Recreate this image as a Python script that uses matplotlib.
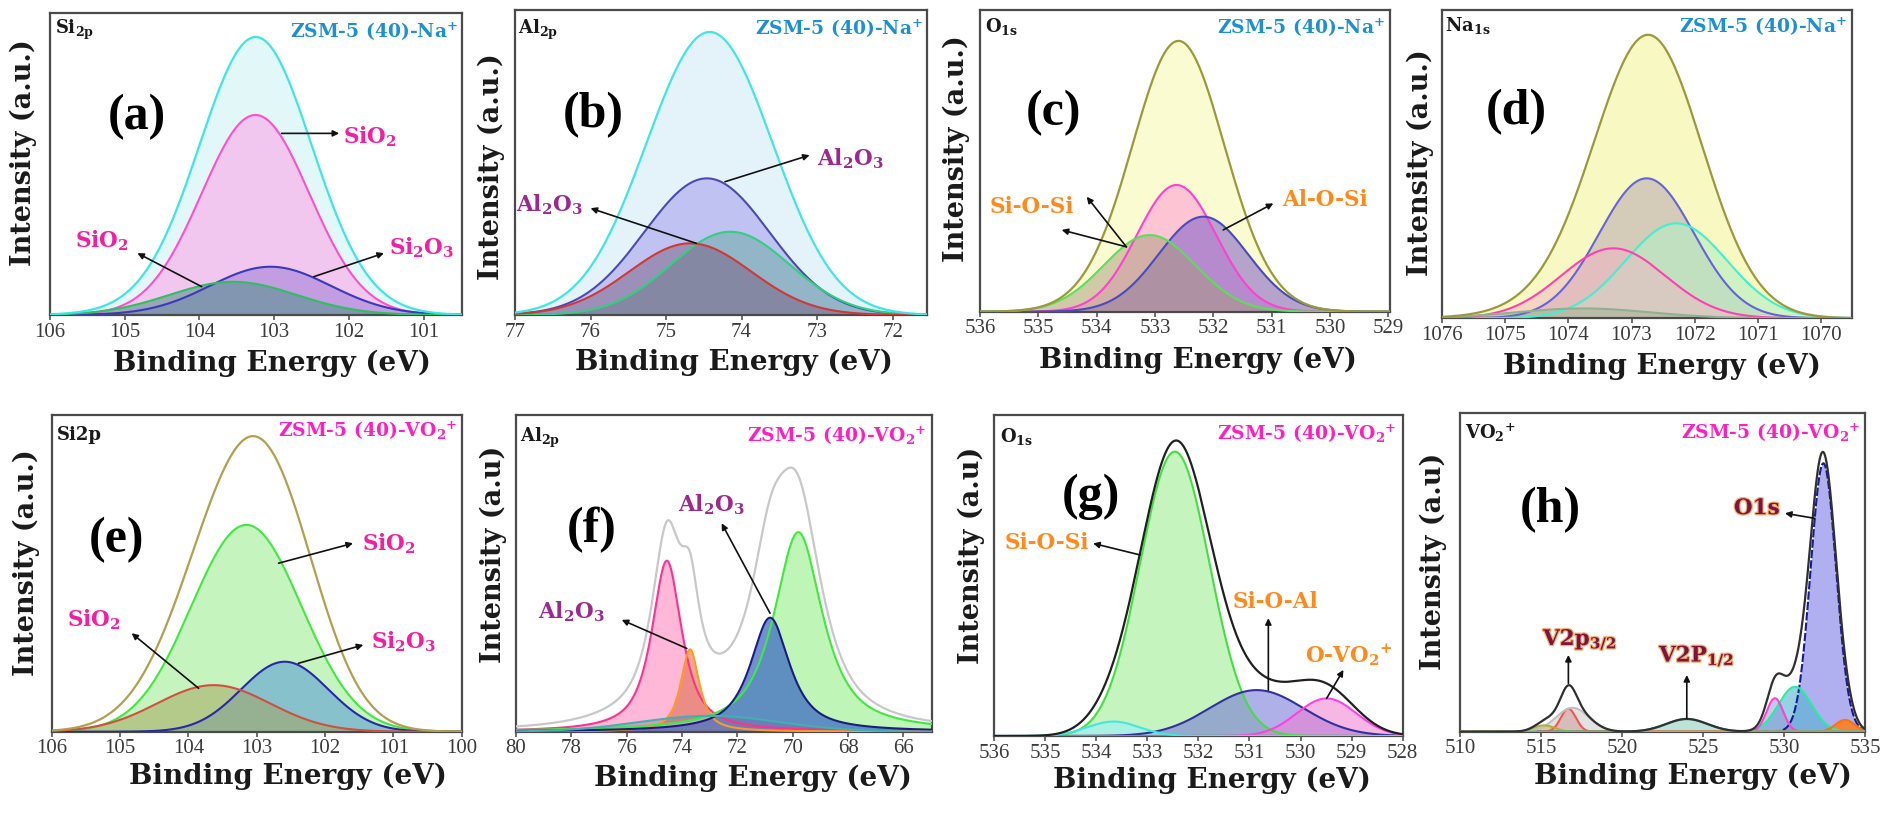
import numpy as np
import matplotlib
matplotlib.use("Agg")
import matplotlib.pyplot as plt
import matplotlib.patheffects as pe

plt.rcParams['mathtext.default'] = 'regular'

# ------------------------------------------------------------------
# DATA : fitted XPS peak components
# centre (eV), height (relative), FWHM (eV), Lorentzian fraction
# ------------------------------------------------------------------
# (a) Si 2p  ZSM-5(40)-Na+   : SiO2, Si2O3, SiO2(minor)
a_center = [103.25, 103.05, 103.55]
a_height = [0.663, 0.160, 0.110]
a_fwhm = [1.70, 1.90, 2.00]
a_ticks = [106, 105, 104, 103, 102, 101]

# (b) Al 2p  ZSM-5(40)-Na+   : Al2O3, Al2O3, Al2O3
b_center = [74.46, 74.15, 74.68]
b_height = [0.448, 0.273, 0.235]
b_fwhm = [1.95, 1.85, 1.90]
b_ticks = [77, 76, 75, 74, 73, 72]

# (c) O 1s  ZSM-5(40)-Na+    : Si-O-Si, Al-O-Si, Si-O-Si
c_center = [532.63, 532.17, 533.09]
c_height = [0.420, 0.315, 0.254]
c_fwhm = [1.60, 1.80, 1.85]
c_ticks = [536, 535, 534, 533, 532, 531, 530, 529]

# (d) Na 1s  ZSM-5(40)-Na+
d_center = [1072.76, 1072.29, 1073.29, 1073.77]
d_height = [0.454, 0.308, 0.227, 0.032]
d_fwhm = [1.77, 1.90, 1.95, 2.50]
d_ticks = [1076, 1075, 1074, 1073, 1072, 1071, 1070]

# (e) Si 2p  ZSM-5(40)-VO2+  : SiO2, Si2O3, SiO2(minor)
e_center = [103.15, 102.59, 103.63]
e_height = [0.653, 0.221, 0.147]
e_fwhm = [1.90, 1.50, 1.95]
e_ticks = [106, 105, 104, 103, 102, 101, 100]

# (f) Al 2p  ZSM-5(40)-VO2+
f_center = [74.55, 73.71, 69.80, 70.82, 73.00]
f_height = [0.540, 0.260, 0.630, 0.360, 0.050]
f_fwhm = [1.30, 0.80, 2.10, 1.70, 6.00]
f_eta = [0.85, 0.85, 0.85, 0.85, 0.0]
f_ticks = [80, 78, 76, 74, 72, 70, 68, 66]

# (g) O 1s  ZSM-5(40)-VO2+   : Si-O-Si, Si-O-Al, O-VO2+, minor
g_center = [532.46, 530.86, 529.49, 533.66]
g_height = [0.886, 0.143, 0.117, 0.045]
g_fwhm = [1.60, 2.16, 1.37, 1.20]
g_ticks = [536, 535, 534, 533, 532, 531, 530, 529, 528]

# (h) VO2+ region           : O1s, O1s, O1s, O1s, V2p3/2 (x3), V2p1/2
h_center = [532.43, 530.68, 529.44, 533.77, 516.69, 516.95, 515.20, 524.00]
h_height = [0.843, 0.141, 0.105, 0.037, 0.072, 0.075, 0.020, 0.040]
h_fwhm = [1.85, 2.40, 1.20, 1.40, 1.10, 2.40, 1.50, 3.00]
h_ticks = [510, 515, 520, 525, 530, 535]

# ------------------------------------------------------------------
# STYLE / LAYOUT
# ------------------------------------------------------------------
W, H = 1885, 814
SERIF_B = 'DejaVu Serif'
TIMES = 'Liberation Serif'
BLUE_T = '#1e8fd0'
MAG_T = '#ff1fbf'
PINK_T = '#f41ea0'
PURP_T = '#9c2a8e'
ORNG_T = '#ff8a1c'
CRIM_T = '#7e1440'


def pv(x, c, h, w, eta=0.0):
    g = np.exp(-4 * np.log(2) * ((x - c) / w) ** 2)
    l = 1.0 / (1.0 + ((x - c) / (w / 2)) ** 2)
    return h * ((1 - eta) * g + eta * l)


panels = [
    dict(box=(50, 461.7, 13.3, 315), xlim=(106, 100.49), ticks=a_ticks,
         c=a_center, h=a_height, w=a_fwhm, eta=None,
         env=('#3ee6e0', '#e2f8f8'),
         comp=[('#ff50c8', '#f4bfee', 0.85), ('#3a3ab8', '#8a6ad0', 0.45),
               ('#2ec060', '#4f8f8a', 0.55)],
         head=r'Si$_{2p}$', head_xy=(0.012, 0.985), zsm=r'ZSM-5 (40)-Na$^{+}$',
         zsm_c=BLUE_T, zsm_xy=(0.99, 0.975), letter='(a)', let_xy=(0.211, 0.657),
         ylab='Intensity (a.u.)', ylab_xy=(-0.065, 0.537), xlab_xy=(0.538, -0.16),
         texts=[('SiO$_2$', 101.72, 0.59, PINK_T), ('SiO$_2$', 105.31, 0.245, PINK_T),
                ('Si$_2$O$_3$', 101.02, 0.222, PINK_T)],
         arrows=[((102.9, 0.602), (102.13, 0.602)), ((103.97, 0.094), (104.83, 0.205)),
                 ((102.47, 0.127), (101.53, 0.205))]),
    dict(box=(515, 926.7, 10, 315), xlim=(77, 71.55), ticks=b_ticks,
         c=b_center, h=b_height, w=b_fwhm, eta=None,
         env=('#40e6e0', '#e4f3fa'),
         comp=[('#4a4ab0', '#b4b4ee', 0.75), ('#30d080', '#5aa898', 0.45),
               ('#d03838', '#7a5c80', 0.5)],
         head=r'Al$_{2p}$', head_xy=(0.008, 0.975), zsm=r'ZSM-5 (40)-Na$^{+}$',
         zsm_c=BLUE_T, zsm_xy=(0.992, 0.975), letter='(b)', let_xy=(0.19, 0.656),
         ylab='Intensity (a.u.)', ylab_xy=(-0.057, 0.486), xlab_xy=(0.532, -0.155),
         texts=[('Al$_2$O$_3$', 72.56, 0.514, PURP_T), ('Al$_2$O$_3$', 76.54, 0.361, PURP_T)],
         arrows=[((74.22, 0.437), (73.1, 0.524)), ((74.6, 0.235), (76.0, 0.35))]),
    dict(box=(980, 1390, 10, 311.7), xlim=(536, 528.97), ticks=c_ticks,
         c=c_center, h=c_height, w=c_fwhm, eta=None,
         env=('#9a9a3c', '#fbfbd2'),
         comp=[('#ff40d0', '#ffb4d6', 0.75), ('#4a4ac0', '#7c5cc8', 0.55),
               ('#58e058', '#a89a7c', 0.5)],
         head=r'O$_{1s}$', head_xy=(0.012, 0.98), zsm=r'ZSM-5 (40)-Na$^{+}$',
         zsm_c=BLUE_T, zsm_xy=(0.987, 0.978), letter='(c)', let_xy=(0.179, 0.657),
         ylab='Intensity (a.u.)', ylab_xy=(-0.057, 0.542), xlab_xy=(0.532, -0.16),
         texts=[('Si-O-Si', 535.11, 0.348, ORNG_T), ('Al-O-Si', 530.09, 0.37, ORNG_T)],
         arrows=[((533.49, 0.215), (534.17, 0.381)), ((533.49, 0.215), (534.6, 0.271)),
                 ((531.83, 0.271), (530.97, 0.359))]),
    dict(box=(1442.3, 1851.7, 10, 318.3), xlim=(1076, 1069.51), ticks=d_ticks,
         c=d_center, h=d_height, w=d_fwhm, eta=None,
         env=('#9a9a3c', '#f8f8c2'),
         comp=[('#6464d8', '#b8a8b0', 0.55), ('#40f0d0', '#b4eec4', 0.6),
               ('#ff40b0', '#f0b4c4', 0.5), ('#90b090', '#a0b090', 0.5)],
         head=r'Na$_{1s}$', head_xy=(0.007, 0.985), zsm=r'ZSM-5 (40)-Na$^{+}$',
         zsm_c=BLUE_T, zsm_xy=(0.988, 0.982), letter='(d)', let_xy=(0.182, 0.67),
         ylab='Intensity (a.u.)', ylab_xy=(-0.054, 0.504), xlab_xy=(0.537, -0.157),
         texts=[], arrows=[]),
    dict(box=(51.7, 461.7, 415, 731.7), xlim=(106, 100), ticks=e_ticks,
         c=e_center, h=e_height, w=e_fwhm, eta=None,
         env=('#b0a050', None),
         comp=[('#40e840', '#c6f4be', 1.0), ('#2828a8', '#5e9fd4', 0.6),
               ('#d05040', '#a4a25a', 0.5)],
         head='Si2p', head_xy=(0.012, 0.965), zsm=r'ZSM-5 (40)-VO$_2$$^{+}$',
         zsm_c=MAG_T, zsm_xy=(0.99, 0.985), letter='(e)', let_xy=(0.157, 0.605),
         ylab='Intensity (a.u.)', ylab_xy=(-0.061, 0.534), xlab_xy=(0.575, -0.142),
         texts=[('SiO$_2$', 101.07, 0.595, PINK_T), ('SiO$_2$', 105.39, 0.353, PINK_T),
                ('Si$_2$O$_3$', 100.85, 0.284, PINK_T)],
         arrows=[((102.68, 0.532), (101.59, 0.595)), ((103.85, 0.137), (104.83, 0.311)),
                 ((102.39, 0.216), (101.44, 0.274))]),
    dict(box=(516, 931.7, 415, 731.7), xlim=(80, 64.98), ticks=f_ticks,
         c=f_center, h=f_height, w=f_fwhm, eta=f_eta,
         env=('#c8c8c8', None),
         comp=[('#ff3090', '#ff92c2', 0.65), ('#ff9a20', '#e07050', 0.6),
               ('#40e840', '#b8f4b0', 0.9), ('#1c1c80', '#3a66c4', 0.72),
               ('#40b0b0', '#9060a0', 0.35)],
         head=r'Al$_{2p}$', head_xy=(0.01, 0.965), zsm=r'ZSM-5 (40)-VO$_2$$^{+}$',
         zsm_c=MAG_T, zsm_xy=(0.988, 0.97), letter='(f)', let_xy=(0.182, 0.637),
         ylab='Intensity (a.u)', ylab_xy=(-0.055, 0.561), xlab_xy=(0.571, -0.147),
         texts=[('Al$_2$O$_3$', 72.93, 0.716, PURP_T), ('Al$_2$O$_3$', 77.99, 0.379, PURP_T)],
         arrows=[((70.82, 0.374), (72.57, 0.658)), ((73.83, 0.263), (76.18, 0.353))]),
    dict(box=(994, 1402.7, 415, 736), xlim=(536, 528), ticks=g_ticks,
         c=g_center, h=g_height, w=g_fwhm, eta=None,
         env=('#202020', None),
         comp=[('#40e040', '#c6f4be', 1.0), ('#3030a0', '#7070d8', 0.55),
               ('#ff40e0', '#f07cd0', 0.55), ('#40e8e0', '#a0f0f0', 0.7)],
         head=r'O$_{1s}$', head_xy=(0.015, 0.965), zsm=r'ZSM-5 (40)-VO$_2$$^{+}$',
         zsm_c=MAG_T, zsm_xy=(0.985, 0.975), letter='(g)', let_xy=(0.237, 0.746),
         ylab='Intensity (a.u)', ylab_xy=(-0.055, 0.562), xlab_xy=(0.534, -0.137),
         texts=[('Si-O-Si', 534.97, 0.6, ORNG_T), ('Si-O-Al', 530.5, 0.418, ORNG_T),
                ('O-VO$_2$$^{+}$', 529.06, 0.252, ORNG_T)],
         arrows=[((533.14, 0.564), (534.06, 0.6)), ((530.63, 0.143), (530.63, 0.367)),
                 ((529.49, 0.117), (529.16, 0.206))]),
    dict(box=(1460, 1865, 413.3, 731.7), xlim=(510, 535), ticks=h_ticks,
         c=h_center, h=h_height, w=h_fwhm, eta=None,
         env=('#303030', None),
         comp=[('#1a1a90', '#b0b0f0', 1.0), ('#20f0a0', '#50b4d0', 0.6),
               ('#ff40d0', '#9090d8', 0.5), ('#ff7010', '#ff8020', 0.9),
               ('#ff5050', '#d06060', 0.6), ('#c0c0c0', '#d0d0d0', 0.6),
               ('#b0b040', '#c0c060', 0.6), ('#40c0a0', '#90d0c0', 0.6)],
         head=r'VO$_2$$^{+}$', head_xy=(0.012, 0.975), zsm=r'ZSM-5 (40)-VO$_2$$^{+}$',
         zsm_c=MAG_T, zsm_xy=(0.988, 0.975), letter='(h)', let_xy=(0.222, 0.696),
         ylab='Intensity (a.u)', ylab_xy=(-0.066, 0.534), xlab_xy=(0.576, -0.141),
         texts=[('V2p$_{3/2}$', 517.41, 0.288, CRIM_T), ('V2P$_{1/2}$', 524.61, 0.236, CRIM_T),
                ('O1s', 528.31, 0.702, CRIM_T)],
         arrows=[((516.69, 0.152), (516.69, 0.241)), ((524.0, 0.042), (524.0, 0.178)),
                 ((531.91, 0.67), (530.06, 0.686))]),
]

fig = plt.figure(figsize=(W / 100, H / 100), dpi=100)

for p in panels:
    L, R, T, B = p['box']
    ax = fig.add_axes([L / W, 1 - B / H, (R - L) / W, (B - T) / H])
    x0, x1 = p['xlim']
    x = np.linspace(min(x0, x1), max(x0, x1), 1500)
    n = len(p['c'])
    etas = p['eta'] if p['eta'] is not None else [0.0] * n
    ys = [pv(x, p['c'][i], p['h'][i], p['w'][i], etas[i]) for i in range(n)]
    env = np.sum(ys, axis=0)
    lc, fc = p['env']
    if fc is not None:
        ax.fill_between(x, 0, env, color=fc, lw=0, zorder=1)
    for i, y in enumerate(ys):
        col, fcol, al = p['comp'][i]
        ax.fill_between(x, 0, y, color=fcol, alpha=al, lw=0, zorder=2)
    for i, y in enumerate(ys):
        col, fcol, al = p['comp'][i]
        ls = (0, (4, 1)) if (p['letter'] == '(h)' and i == 0) else '-'
        ax.plot(x, y, color=col, lw=1.5, ls=ls, zorder=3)
    ax.plot(x, env, color=lc, lw=1.6, zorder=4)

    ax.set_xlim(x0, x1)
    ax.set_ylim(0, 1)
    ax.set_xticks(p['ticks'])
    ax.set_xticklabels([str(t) for t in p['ticks']], fontfamily=TIMES,
                       fontsize=15, color='#3a3a3a')
    ax.set_yticks([])
    ax.tick_params(axis='x', direction='out', length=3.5, width=1.2,
                   color='#555555', pad=2)
    for s in ax.spines.values():
        s.set_color('#4a4a4a')
        s.set_linewidth(1.6)

    ax.text(p['head_xy'][0], p['head_xy'][1], p['head'], transform=ax.transAxes,
            ha='left', va='top', fontfamily=SERIF_B, fontweight='bold',
            fontsize=13, color='#1a1a1a', zorder=6)
    ax.text(p['zsm_xy'][0], p['zsm_xy'][1], p['zsm'], transform=ax.transAxes,
            ha='right', va='top', fontfamily=SERIF_B, fontweight='bold',
            fontsize=13.5, color=p['zsm_c'], zorder=6)
    ax.text(p['let_xy'][0], p['let_xy'][1], p['letter'], transform=ax.transAxes,
            ha='center', va='center', fontfamily=TIMES, fontweight='bold',
            fontsize=36, color='black', zorder=6)
    ax.text(p['ylab_xy'][0], p['ylab_xy'][1], p['ylab'], transform=ax.transAxes,
            ha='center', va='center', rotation=90, fontfamily=SERIF_B,
            fontweight='bold', fontsize=19.5, color='#1a1a1a')
    ax.text(p['xlab_xy'][0], p['xlab_xy'][1], 'Binding Energy (eV)',
            transform=ax.transAxes, ha='center', va='center', fontfamily=SERIF_B,
            fontweight='bold', fontsize=20, color='#1a1a1a')

    for (s, tx, ty, col) in p['texts']:
        kw = {}
        if col == CRIM_T:
            kw['path_effects'] = [pe.withStroke(linewidth=1.8, foreground='#f6b070')]
        ax.text(tx, ty, s, ha='center', va='center', fontfamily=SERIF_B,
                fontweight='bold', fontsize=15.5, color=col, zorder=7, **kw)
    for (tail, head) in p['arrows']:
        ax.annotate('', xy=head, xytext=tail,
                    arrowprops=dict(arrowstyle='-|>', color='#111111', lw=1.2,
                                    mutation_scale=9, shrinkA=0, shrinkB=0),
                    zorder=8)

fig.savefig('out.png', dpi=100)
